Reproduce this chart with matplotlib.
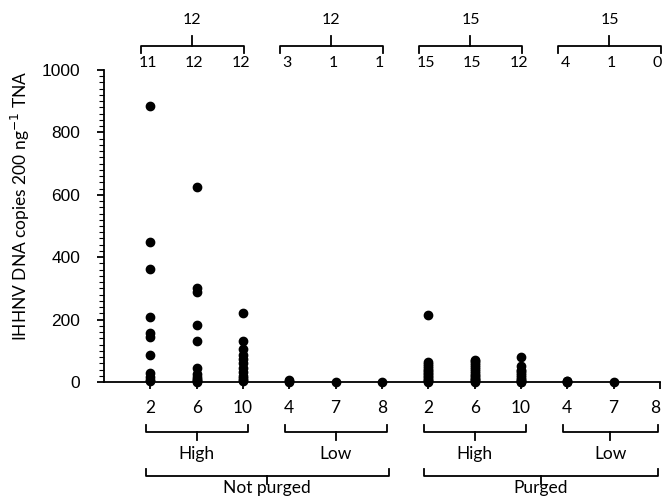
import matplotlib
matplotlib.use("Agg")
import matplotlib.pyplot as plt
import matplotlib.transforms as mtransforms
from matplotlib.ticker import MultipleLocator

# ── Data ─────────────────────────────────────────────
tank_labels = ["2", "6", "10", "4", "7", "8", "2", "6", "10", "4", "7", "8"]
positive_counts = ["11", "12", "12", "3", "1", "1", "15", "15", "12", "4", "1", "0"]
group_totals = ["12", "12", "15", "15"]
density_labels = ["High", "Low", "High", "Low"]
purge_labels = ["Not purged", "Purged"]

copies = [
    [885, 448, 363, 209, 158, 145, 85, 28, 17, 8, 2],
    [626, 300, 289, 183, 131, 44, 25, 15, 10, 5, 2, 0],
    [222, 131, 105, 88, 74, 60, 45, 32, 20, 12, 5, 2],
    [5, 2, 0],
    [0],
    [0],
    [216, 65, 58, 52, 45, 40, 35, 30, 25, 20, 15, 10, 6, 3, 1],
    [72, 68, 62, 55, 48, 42, 36, 30, 24, 18, 13, 9, 5, 2, 0],
    [80, 50, 40, 35, 28, 22, 15, 10, 6, 3, 1, 0],
    [3, 2, 1, 0],
    [0],
    [],
]

LBL_FONT = "Lato"
AX_FONT = "Liberation Sans"

fig = plt.figure(figsize=(6.66, 4.96), dpi=100)
ax = fig.add_axes([104 / 666, 1 - 382 / 496, 556 / 666, 312 / 496])

for i, vals in enumerate(copies):
    xs = [i + 1] * len(vals)
    ax.plot(xs, vals, "o", color="black", ms=6, clip_on=False, zorder=3)

ax.set_xlim(0, 12)
ax.set_ylim(0, 1000)
ax.spines["top"].set_visible(False)
ax.spines["right"].set_visible(False)
for s in ("left", "bottom"):
    ax.spines[s].set_linewidth(1.3)

ax.set_xticks(range(1, 13))
ax.set_xticklabels(tank_labels, fontfamily=LBL_FONT, fontsize=12.5)
ax.get_xticklabels()[-1].set_horizontalalignment("right")
ax.tick_params(axis="x", direction="out", length=5, width=1.3, pad=8)
ax.yaxis.set_major_locator(MultipleLocator(200))
ax.yaxis.set_minor_locator(MultipleLocator(20))
ax.tick_params(axis="y", which="major", direction="out", length=5, width=1.3,
               labelsize=12.5, pad=12)
ax.tick_params(axis="y", which="minor", direction="out", length=3.5, width=0.8)
for t in ax.get_yticklabels():
    t.set_fontfamily(AX_FONT)

fig.text(20 / 666, 1 - 206 / 496, "IHHNV DNA copies 200 ng$^{-1}$ TNA",
         rotation=90, ha="center", va="center", fontfamily=LBL_FONT, fontsize=12.5)

trans = mtransforms.blended_transform_factory(ax.transData, fig.transFigure)


def fy(px):
    return 1 - px / 496


def bracket(x0, x1, y_line, hook, tick):
    # horizontal line with hooks at the ends and a tick in the middle
    xm = (x0 + x1) / 2
    ax.plot([x0, x0, x1, x1], [fy(y_line + hook), fy(y_line), fy(y_line), fy(y_line + hook)],
             color="black", lw=1.3, transform=trans, clip_on=False,
             solid_joinstyle="round")
    ax.plot([xm, xm], [fy(y_line), fy(y_line - tick)], color="black", lw=1.3,
            transform=trans, clip_on=False)
    return xm


# top: positives per tank and per group
for i, n in enumerate(positive_counts):
    ax.text(i + 1 - 0.05, fy(63), n, transform=trans, ha="center", va="center",
            fontfamily=LBL_FONT, fontsize=11.5)
for g, tot in enumerate(group_totals):
    x0 = 3 * g + 1 - 0.2
    x1 = 3 * g + 3 + 0.02
    xm = bracket(x0, x1, 46, 7, 10)
    ax.text(xm, fy(20), tot, transform=trans, ha="center", va="center",
            fontfamily=LBL_FONT, fontsize=11.5)

# bottom: density groups
for g, lab in enumerate(density_labels):
    x0 = 3 * g + 1 - 0.1
    x1 = 3 * g + 3 + 0.1 if g < 3 else 11.95
    xm = bracket(x0, x1, 432, -7, -8)
    ax.text(xm, fy(454), lab, transform=trans, ha="center", va="center",
            fontfamily=LBL_FONT, fontsize=12.5)

# bottom: purge groups
for g, lab in enumerate(purge_labels):
    x0 = 6 * g + 1 - 0.1
    x1 = 6 * g + 6 + 0.15 if g == 0 else 11.95
    xm = bracket(x0, x1, 476, -7, -8)
    ax.text(xm, fy(488), lab, transform=trans, ha="center", va="center",
            fontfamily=LBL_FONT, fontsize=12.5)

fig.savefig("out.png", dpi=100)
